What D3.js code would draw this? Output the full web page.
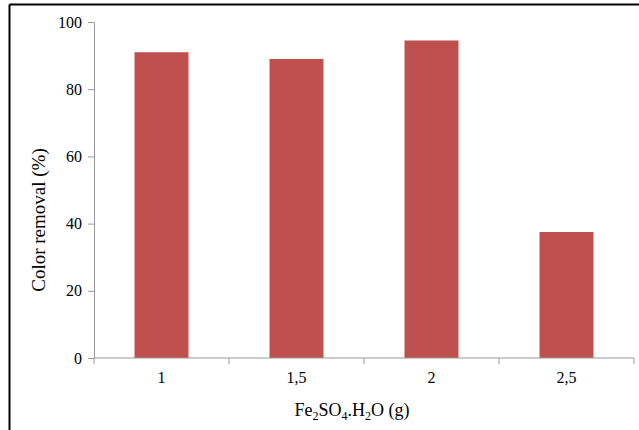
<!DOCTYPE html>
<html><head><meta charset="utf-8">
<script src="https://cdn.jsdelivr.net/npm/d3@7"></script>
<style>body{margin:0;background:#fff}svg{display:block}</style>
</head><body>
<script>
const categories = ["1", "1,5", "2", "2,5"];
const values = [91, 89, 94.5, 37.5];
const yTicks = [0, 20, 40, 60, 80, 100];

const W = 639, H = 430;
const svg = d3.select("body").append("svg").attr("width", W).attr("height", H);
const font = "'Liberation Serif','Times New Roman',serif";

// outer frame (top and left visible)
svg.append("line").attr("x1", 9.5).attr("y1", 4.5).attr("x2", W).attr("y2", 4.5).attr("stroke", "#000").attr("stroke-width", 2);
svg.append("line").attr("x1", 9.5).attr("y1", 4.5).attr("x2", 9.5).attr("y2", H).attr("stroke", "#000").attr("stroke-width", 2);

const x = d3.scaleBand().domain(categories).range([94, 634]).paddingInner(0.6).paddingOuter(0.3);
const y = d3.scaleLinear().domain([0, 100]).range([358, 22]);

svg.selectAll("rect.bar").data(values).enter().append("rect")
  .attr("class", "bar")
  .attr("x", (d, i) => x(categories[i]))
  .attr("y", d => y(d))
  .attr("width", x.bandwidth())
  .attr("height", d => y(0) - y(d))
  .attr("fill", "#c0504d");

// y axis
const ya = svg.append("g").attr("transform", "translate(94,0)")
  .call(d3.axisLeft(y).tickValues(yTicks).tickSize(6).tickPadding(6).tickSizeOuter(0));
ya.select(".domain").attr("stroke", "#999");
ya.selectAll(".tick line").attr("stroke", "#999");
ya.selectAll(".tick text").attr("font-family", font).attr("font-size", 16).attr("fill", "#000");

// x axis with ticks at band boundaries
const xa = svg.append("g").attr("transform", "translate(0,358)");
xa.append("line").attr("x1", 94).attr("x2", 634).attr("stroke", "#999");
const edges = [94].concat(categories.map(c => x(c) + x.bandwidth() + (x.step() - x.bandwidth()) / 2));
xa.selectAll("line.t").data(edges).enter().append("line").attr("class", "t")
  .attr("x1", d => d).attr("x2", d => d).attr("y1", 0).attr("y2", 6).attr("stroke", "#999");
xa.selectAll("text").data(categories).enter().append("text")
  .attr("x", d => x(d) + x.bandwidth() / 2).attr("y", 25)
  .attr("text-anchor", "middle").attr("font-family", font).attr("font-size", 16).text(d => d);

// axis titles
svg.append("text").attr("transform", "translate(45,220) rotate(-90)")
  .attr("text-anchor", "middle").attr("font-family", font).attr("font-size", 19).text("Color removal (%)");

const xt = svg.append("text").attr("x", 352).attr("y", 416).attr("text-anchor", "middle")
  .attr("font-family", font).attr("font-size", 18);
xt.append("tspan").text("Fe");
xt.append("tspan").attr("font-size", 12).attr("dy", 4).text("2");
xt.append("tspan").attr("dy", -4).text("SO");
xt.append("tspan").attr("font-size", 12).attr("dy", 4).text("4");
xt.append("tspan").attr("dy", -4).text(".H");
xt.append("tspan").attr("font-size", 12).attr("dy", 4).text("2");
xt.append("tspan").attr("dy", -4).text("O\u00a0(g)");
</script>
</body></html>
